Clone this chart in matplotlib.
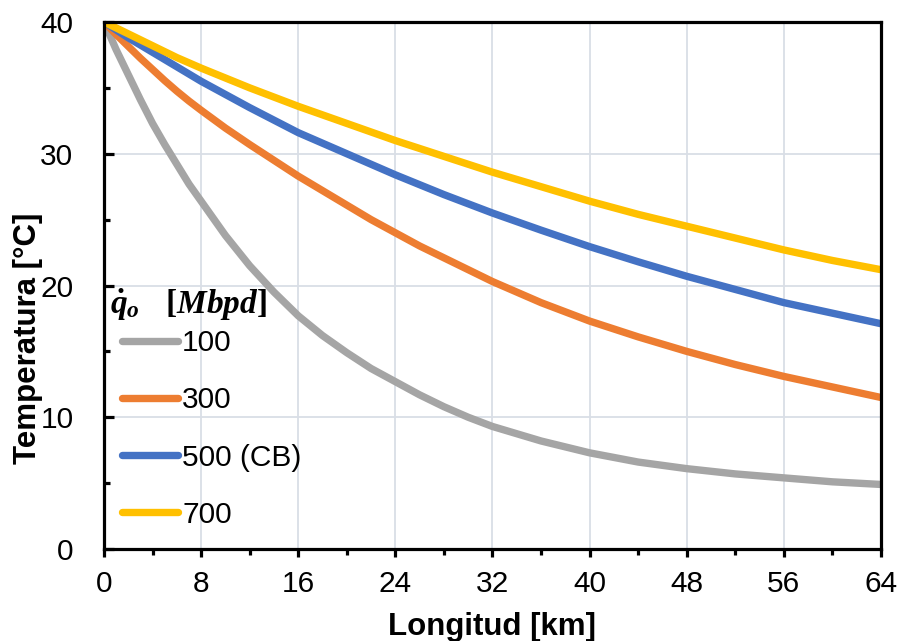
import matplotlib
matplotlib.use("Agg")
import matplotlib.pyplot as plt
from matplotlib.ticker import MultipleLocator

plt.rcParams['font.family'] = ['Liberation Sans', 'DejaVu Sans']
plt.rcParams['mathtext.fontset'] = 'custom'
plt.rcParams['mathtext.it'] = 'Liberation Serif:italic:bold'
plt.rcParams['mathtext.rm'] = 'Liberation Serif:bold'

# longitud [km]
longitud = [0, 1, 2, 3, 4, 5, 6, 7, 8, 10, 12, 14, 16, 18, 20, 22, 24, 26,
            28, 30, 32, 36, 40, 44, 48, 52, 56, 60, 64]

# temperatura [°C] per flow rate (Mbpd)
t_100 = [40, 37.9, 36.0, 34.1, 32.3, 30.7, 29.2, 27.7, 26.4, 23.8, 21.5,
         19.5, 17.7, 16.2, 14.9, 13.7, 12.7, 11.7, 10.8, 10.0, 9.3, 8.2,
         7.3, 6.6, 6.1, 5.7, 5.4, 5.1, 4.9]
t_300 = [40, 39.05, 38.15, 37.25, 36.4, 35.55, 34.75, 34.0, 33.3, 31.95, 30.7,
         29.5, 28.3, 27.2, 26.1, 25.0, 24.0, 23.0, 22.1, 21.2, 20.3, 18.7,
         17.3, 16.1, 15.0, 14.0, 13.1, 12.3, 11.5]
t_500 = [40, 39.4, 38.8, 38.25, 37.7, 37.15, 36.6, 36.05, 35.5, 34.5, 33.5,
         32.55, 31.6, 30.8, 30.0, 29.2, 28.4, 27.65, 26.9, 26.2, 25.5, 24.2,
         22.95, 21.8, 20.7, 19.7, 18.7, 17.9, 17.1]
t_700 = [40, 39.55, 39.1, 38.65, 38.2, 37.75, 37.3, 36.9, 36.5, 35.75, 35.0,
         34.3, 33.6, 32.95, 32.3, 31.65, 31.0, 30.4, 29.8, 29.2, 28.6, 27.5,
         26.4, 25.4, 24.5, 23.6, 22.7, 21.9, 21.2]

series = [
    ("100", t_100, "#A5A5A5"),
    ("300", t_300, "#ED7D31"),
    ("500 (CB)", t_500, "#4472C4"),
    ("700", t_700, "#FFC000"),
]

fig = plt.figure(figsize=(9.02, 6.41), dpi=100)
ax = fig.add_axes([0.1153, 0.1435, 0.9767 - 0.1153, 0.9657 - 0.1435])

for label, temps, color in series:
    ax.plot(longitud, temps, color=color, lw=5.3, label=label,
            solid_capstyle='butt', solid_joinstyle='round', zorder=3)

ax.set_xlim(0, 64)
ax.set_ylim(0, 40)
ax.xaxis.set_major_locator(MultipleLocator(8))
ax.xaxis.set_minor_locator(MultipleLocator(4))
ax.yaxis.set_major_locator(MultipleLocator(10))
ax.yaxis.set_minor_locator(MultipleLocator(5))

ax.grid(True, which='major', color='#D9DEE6', lw=1.3, zorder=0)
for sp in ax.spines.values():
    sp.set_linewidth(2.3)
    sp.set_color('black')
    sp.set_zorder(4)

ax.tick_params(axis='x', which='major', direction='out', length=6, width=2.3,
               labelsize=21.5, pad=9)
ax.tick_params(axis='x', which='minor', direction='out', length=4, width=2.3)
ax.tick_params(axis='y', which='major', direction='in', length=7, width=2.3,
               labelsize=21.5, pad=22)
ax.tick_params(axis='y', which='minor', direction='in', length=4, width=2.3)

ax.set_xlabel('Longitud [km]', fontsize=22.5, fontweight='bold', labelpad=10)
ax.set_ylabel('Temperatura [°C]', fontsize=22.5, fontweight='bold')
ax.yaxis.set_label_coords(-0.079, 0.40)

# legend title drawn as text so it can sit left of the handles
ax.text(0.008, 0.463, r'$\dot{q}_o\ \ \ [Mbpd]$', transform=ax.transAxes,
        fontsize=24, ha='left', va='center')
leg = ax.legend(loc='upper left', bbox_to_anchor=(0.019, 0.423),
                frameon=False, fontsize=21.5, handlelength=1.87,
                handletextpad=0.15, labelspacing=0.98, borderpad=0.1,
                borderaxespad=0)
for h in leg.get_lines():
    h.set_solid_capstyle('round')
    h.set_linewidth(5.3)

fig.savefig('out.png', dpi=100)
